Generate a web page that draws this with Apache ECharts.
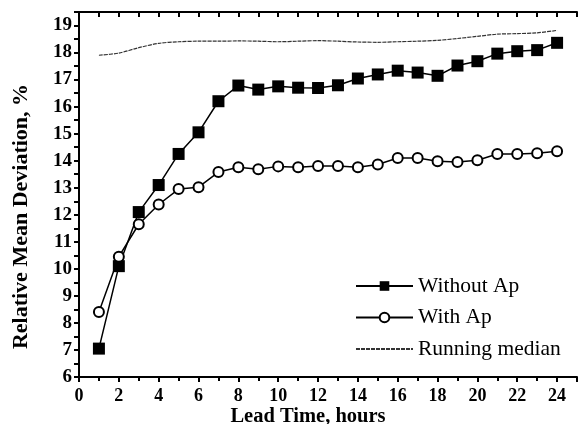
<!DOCTYPE html>
<html>
<head>
<meta charset="utf-8">
<script src="https://cdn.jsdelivr.net/npm/echarts@6/dist/echarts.min.js"></script>
<style>
  html, body { margin: 0; padding: 0; background: #fff; }
  #chart { width: 584px; height: 424px; }
</style>
</head>
<body>
<div id="chart"></div>
<script>
// lead time, hours
const leadTime = [1, 2, 3, 4, 5, 6, 7, 8, 9, 10, 11, 12, 13, 14, 15, 16, 17, 18, 19, 20, 21, 22, 23, 24];

// relative mean deviation, %
const withoutAp = [7.05, 10.1, 12.1, 13.1, 14.25, 15.05, 16.2, 16.78, 16.63, 16.75, 16.7, 16.69, 16.79, 17.04,
  17.19, 17.33, 17.26, 17.14, 17.52, 17.68, 17.96, 18.05, 18.09, 18.36];
const withAp = [8.4, 10.45, 11.65, 12.38, 12.95, 13.02, 13.58, 13.76, 13.68, 13.79, 13.76, 13.8, 13.8, 13.76,
  13.86, 14.1, 14.1, 13.98, 13.95, 14.02, 14.25, 14.25, 14.28, 14.35];
const runningMedian = [17.9, 17.98, 18.18, 18.34, 18.4, 18.42, 18.42, 18.43, 18.42, 18.4, 18.42, 18.44, 18.42,
  18.39, 18.38, 18.4, 18.42, 18.45, 18.52, 18.6, 18.68, 18.7, 18.73, 18.82];

const FONT = "Liberation Serif";

const pairs = (ys) => leadTime.map((x, i) => [x, ys[i]]);

const chart = echarts.init(document.getElementById("chart"));

chart.setOption({
  animation: false,
  backgroundColor: "#fff",
  textStyle: { fontFamily: FONT, color: "#000" },
  grid: { left: 79, right: 7, top: 12, bottom: 47, outerBoundsMode: "none", containLabel: false },
  legend: {
    orient: "vertical",
    left: 350,
    top: 270,
    itemWidth: 57,
    itemHeight: 12,
    itemGap: 9.5,
    textStyle: { fontFamily: FONT, fontSize: 21.5, color: "#000" },
    data: ["Without Ap", "With Ap", "Running median"],
  },
  xAxis: [
    {
      type: "value",
      min: 0,
      max: 25,
      interval: 2,
      name: "Lead Time, hours",
      nameLocation: "middle",
      nameGap: 29,
      nameMoveOverlap: false,
      // shift the title a little left of the axis centre, as in the original
      nameTextStyle: { fontFamily: FONT, fontSize: 20.5, fontWeight: "bold", color: "#000", padding: [0, 40, 0, 0] },
      axisLine: { lineStyle: { color: "#000", width: 2 } },
      axisTick: { length: 5, lineStyle: { color: "#000", width: 2 } },
      minorTick: { show: true, splitNumber: 2, length: 4, lineStyle: { color: "#000", width: 2 } },
      axisLabel: { fontFamily: FONT, fontSize: 18, fontWeight: "bold", color: "#000", margin: 10, showMaxLabel: false },
      splitLine: { show: false },
    },
    {
      type: "value",
      position: "top",
      min: 0,
      max: 25,
      interval: 1,
      axisLine: { show: true, lineStyle: { color: "#000", width: 2 } },
      axisTick: { inside: true, length: 5, lineStyle: { color: "#000", width: 2 } },
      axisLabel: { show: false },
      splitLine: { show: false },
    },
  ],
  yAxis: [
    {
      type: "value",
      min: 6,
      max: 19.5,
      interval: 1,
      name: "Relative Mean Deviation, %",
      nameLocation: "middle",
      nameGap: 47,
      nameMoveOverlap: false,
      // shift the title a little below the axis centre
      nameTextStyle: { fontFamily: FONT, fontSize: 22, fontWeight: "bold", color: "#000", padding: [0, 44, 0, 0] },
      axisLine: { show: true, lineStyle: { color: "#000", width: 2 } },
      axisTick: { length: 5, lineStyle: { color: "#000", width: 2 } },
      minorTick: { show: true, splitNumber: 2, length: 4, lineStyle: { color: "#000", width: 2 } },
      axisLabel: { fontFamily: FONT, fontSize: 19, fontWeight: "bold", color: "#000", margin: 7, showMaxLabel: false },
      splitLine: { show: false },
    },
    {
      type: "value",
      position: "right",
      min: 6,
      max: 19.5,
      interval: 0.5,
      axisLine: { show: true, lineStyle: { color: "#000", width: 2 } },
      axisTick: { inside: true, length: 5, lineStyle: { color: "#000", width: 2 } },
      axisLabel: { show: false },
      splitLine: { show: false },
    },
  ],
  series: [
    {
      name: "Without Ap",
      type: "line",
      data: pairs(withoutAp),
      symbol: "rect",
      symbolSize: 12,
      itemStyle: { color: "#000", borderWidth: 0 },
      lineStyle: { color: "#000", width: 1.5 },
      z: 3,
    },
    {
      name: "With Ap",
      type: "line",
      data: pairs(withAp),
      symbol: "circle",
      symbolSize: 10,
      itemStyle: { color: "#fff", borderColor: "#000", borderWidth: 2 },
      lineStyle: { color: "#000", width: 1.5 },
      z: 3,
    },
    {
      name: "Running median",
      type: "line",
      data: pairs(runningMedian),
      symbol: "none",
      smooth: 0.3,
      itemStyle: { color: "#333", opacity: 0 },
      lineStyle: { color: "#333", width: 1.2, type: [4, 1] },
      z: 2,
    },
  ],
});
</script>
</body>
</html>
